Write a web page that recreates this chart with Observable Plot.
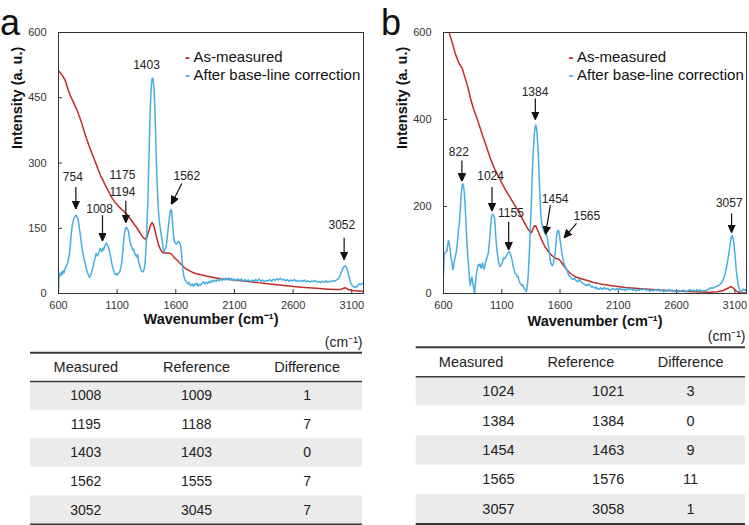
<!DOCTYPE html>
<html>
<head>
<meta charset="utf-8">
<script src="https://cdn.jsdelivr.net/npm/d3@7"></script>
<script src="https://cdn.jsdelivr.net/npm/@observablehq/plot@0.6"></script>
<style>
  html, body { margin: 0; padding: 0; background: #fff; }
  #root { position: relative; width: 749px; height: 525px; overflow: hidden; font-family: "Liberation Sans", Arial, sans-serif; }
  #root > * { position: absolute; }
  .panel-label { font-size: 36px; line-height: 1; color: #111; }
</style>
</head>
<body>
<div id="root"></div>
<script>
// ---------- data ----------
const wavenumberTicks = [600, 1100, 1600, 2100, 2600, 3100];
const intensityTicksA = [0, 150, 300, 450, 600];
const intensityTicksB = [0, 200, 400, 600];
const seriesNames = ["As-measured", "After base-line correction"];
const seriesColors = ["#c22b27", "#48aee0"];

// Panel a: as-measured spectrum [wavenumber, intensity]
const measuredA = [[600,512],[620,506],[640,498],[660,488],[680,470],[700,455],[720,444],[740,432],[760,420],[780,405],[800,390],[820,372],[840,355],[860,340],[880,325],[900,312],[920,298],[940,284],[960,270],[980,260],[1000,248],[1020,238],[1040,228],[1060,218],[1080,210],[1100,204],[1120,198],[1140,193],[1160,188],[1180,183],[1200,176],[1220,169],[1240,161],[1260,154],[1280,146],[1300,137],[1320,129],[1340,125],[1355,130],[1370,144],[1385,157],[1398,163],[1410,158],[1425,142],[1440,125],[1455,110],[1470,101],[1485,95],[1500,93],[1520,93],[1545,93],[1565,90],[1585,83],[1610,77],[1635,70],[1660,63],[1685,57],[1710,53],[1740,49],[1770,46],[1810,43],[1860,40],[1920,37],[1980,34],[2050,32],[2100,31],[2200,28],[2300,25],[2400,22],[2500,19],[2600,16],[2700,14],[2800,12],[2900,10],[2960,9],[3000,9],[3020,11],[3040,13],[3055,12],[3070,9],[3100,7],[3150,6],[3200,5]];

// Panel a: after base-line correction
const correctedA = [[600,0],[603,36],[610,46],[617,41],[624,49],[631,44],[638,52],[646,47],[654,55],[662,60],[670,66],[678,70],[686,80],[694,92],[702,115],[710,140],[718,157],[726,168],[734,174],[742,178],[750,180],[756,178],[762,174],[770,166],[778,150],[786,134],[794,118],[802,102],[810,90],[818,78],[826,70],[834,62],[842,52],[850,46],[858,40],[866,37],[874,42],[882,48],[890,56],[898,66],[906,76],[914,84],[920,92],[926,90],[932,86],[938,90],[946,96],[954,104],[962,100],[968,96],[976,104],[984,100],[992,108],[1000,112],[1008,116],[1014,114],[1020,110],[1028,104],[1036,94],[1044,84],[1052,72],[1060,62],[1068,54],[1076,48],[1084,44],[1092,46],[1100,42],[1108,46],[1116,48],[1124,52],[1132,60],[1140,72],[1148,96],[1156,122],[1164,142],[1172,150],[1180,152],[1188,148],[1196,144],[1202,132],[1210,118],[1218,110],[1226,106],[1234,100],[1242,102],[1250,92],[1258,88],[1266,84],[1274,90],[1282,74],[1290,66],[1298,58],[1306,52],[1314,50],[1322,50],[1330,56],[1338,70],[1344,95],[1350,125],[1356,170],[1362,215],[1368,280],[1374,340],[1380,400],[1386,452],[1392,480],[1398,494],[1404,495],[1410,482],[1416,462],[1422,420],[1428,370],[1434,310],[1440,260],[1446,220],[1452,190],[1458,168],[1466,153],[1474,138],[1480,128],[1486,118],[1492,104],[1498,96],[1504,98],[1512,104],[1520,112],[1528,130],[1536,152],[1544,172],[1552,188],[1558,193],[1564,190],[1570,172],[1576,150],[1582,130],[1588,120],[1596,116],[1604,114],[1612,116],[1620,120],[1628,118],[1636,114],[1642,108],[1648,92],[1654,74],[1660,56],[1666,44],[1672,36],[1680,30],[1688,28],[1696,24],[1704,22],[1712,26],[1720,20],[1730,18],[1740,22],[1750,16],[1760,22],[1770,20],[1780,24],[1790,17],[1800,21],[1812,19],[1824,24],[1836,27],[1848,22],[1860,26],[1872,23],[1884,28],[1896,25],[1908,30],[1920,27],[1932,31],[1944,28],[1956,32],[1968,29],[1980,33],[1992,30],[2004,34],[2016,31],[2028,35],[2040,32],[2052,36],[2064,31],[2076,35],[2088,30],[2100,33],[2115,29],[2130,34],[2145,30],[2160,33],[2175,28],[2190,32],[2205,29],[2220,31],[2235,27],[2250,31],[2265,28],[2280,32],[2295,29],[2310,33],[2325,28],[2340,31],[2355,27],[2370,30],[2385,29],[2400,32],[2415,28],[2430,33],[2445,30],[2460,34],[2475,31],[2490,35],[2505,31],[2520,33],[2535,29],[2550,32],[2565,28],[2580,31],[2595,29],[2610,32],[2625,28],[2640,30],[2655,27],[2670,30],[2685,28],[2700,31],[2715,27],[2730,29],[2745,26],[2760,29],[2775,27],[2790,30],[2805,26],[2820,28],[2835,25],[2850,28],[2865,26],[2880,29],[2895,26],[2910,28],[2925,27],[2940,30],[2955,28],[2970,31],[2985,34],[2995,38],[3005,44],[3015,52],[3025,58],[3035,62],[3045,63],[3055,60],[3065,52],[3075,40],[3085,30],[3095,22],[3105,18],[3115,16],[3125,14],[3135,16],[3145,15],[3155,20],[3165,22],[3175,20],[3185,23],[3200,22]];

// Panel b: as-measured spectrum
const measuredB = [[600,650],[620,628],[640,608],[660,590],[680,572],[700,552],[720,538],[740,526],[760,518],[780,500],[800,483],[820,462],[840,440],[860,423],[880,408],[900,392],[920,376],[940,360],[960,344],[980,328],[1000,312],[1020,298],[1040,286],[1060,275],[1080,265],[1100,254],[1120,244],[1140,235],[1160,226],[1180,217],[1200,208],[1220,199],[1240,190],[1260,181],[1280,170],[1300,160],[1320,150],[1340,143],[1355,140],[1368,148],[1380,156],[1390,156],[1400,150],[1412,143],[1425,134],[1440,125],[1455,116],[1470,108],[1485,102],[1500,96],[1520,90],[1540,85],[1560,81],[1580,80],[1595,78],[1610,72],[1630,65],[1650,57],[1670,51],[1690,46],[1710,42],[1735,38],[1770,35],[1820,31],[1880,26],[1960,21],[2060,17],[2160,14],[2300,11],[2450,8],[2600,6],[2750,4],[2880,3],[2950,4],[3000,7],[3040,12],[3065,16],[3085,13],[3105,7],[3130,3],[3160,2],[3200,1]];

// Panel b: after base-line correction
const correctedB = [[600,42],[606,90],[618,95],[629,98],[636,112],[643,122],[650,112],[658,100],[665,82],[672,72],[680,55],[686,62],[692,72],[700,84],[709,94],[716,110],[722,124],[729,148],[734,158],[738,168],[744,192],[749,216],[755,238],[761,250],[767,252],[772,248],[778,232],[784,212],[790,180],[795,152],[801,120],[807,92],[813,70],[818,52],[824,32],[830,18],[836,30],[844,38],[850,26],[858,14],[864,4],[868,0],[872,18],[878,34],[886,50],[893,62],[900,66],[906,64],[912,68],[918,62],[924,58],[930,66],[936,70],[942,60],[950,56],[958,68],[967,78],[975,84],[984,92],[992,112],[1000,138],[1006,160],[1012,176],[1018,180],[1024,182],[1030,178],[1036,176],[1042,160],[1048,134],[1054,112],[1060,96],[1066,86],[1072,74],[1078,68],[1084,62],[1090,64],[1096,66],[1102,70],[1110,76],[1118,82],[1126,80],[1134,84],[1142,88],[1150,92],[1158,95],[1165,96],[1172,92],[1179,87],[1186,80],[1193,70],[1200,60],[1208,52],[1216,46],[1224,44],[1232,38],[1240,40],[1248,30],[1256,24],[1264,22],[1272,18],[1280,20],[1288,14],[1296,10],[1304,8],[1310,4],[1316,12],[1322,24],[1328,48],[1334,78],[1340,115],[1346,155],[1352,200],[1358,245],[1364,290],[1370,325],[1376,352],[1382,375],[1388,385],[1393,387],[1398,380],[1403,368],[1408,345],[1414,318],[1420,276],[1426,232],[1432,198],[1438,174],[1444,160],[1450,152],[1456,148],[1462,145],[1468,140],[1474,138],[1480,136],[1486,133],[1492,126],[1498,114],[1504,104],[1510,90],[1516,78],[1522,70],[1528,66],[1534,64],[1540,68],[1546,74],[1552,82],[1558,92],[1564,112],[1570,130],[1576,140],[1582,145],[1588,144],[1594,136],[1600,124],[1608,108],[1616,94],[1624,80],[1632,70],[1640,64],[1648,60],[1656,56],[1664,50],[1672,44],[1680,40],[1688,38],[1696,36],[1704,33],[1712,32],[1720,35],[1728,34],[1736,30],[1744,28],[1752,27],[1760,30],[1768,32],[1776,28],[1784,26],[1792,24],[1800,23],[1810,21],[1820,18],[1830,20],[1840,19],[1850,22],[1860,18],[1870,15],[1880,16],[1890,14],[1900,12],[1910,15],[1920,11],[1935,10],[1950,13],[1965,9],[1980,14],[1995,10],[2010,12],[2025,7],[2040,9],[2055,12],[2070,8],[2085,11],[2100,9],[2115,12],[2130,8],[2145,10],[2160,7],[2175,11],[2190,9],[2205,12],[2220,8],[2235,10],[2250,6],[2265,9],[2280,7],[2295,10],[2310,8],[2325,11],[2340,7],[2355,9],[2370,5],[2385,8],[2400,6],[2415,9],[2430,7],[2445,10],[2460,5],[2475,8],[2490,4],[2505,7],[2520,5],[2535,9],[2550,6],[2565,8],[2580,4],[2595,6],[2610,3],[2625,7],[2640,5],[2655,8],[2670,6],[2685,4],[2700,7],[2715,9],[2730,6],[2745,8],[2760,5],[2775,9],[2790,6],[2805,8],[2820,5],[2835,7],[2850,6],[2865,9],[2880,11],[2895,13],[2910,12],[2925,15],[2940,16],[2955,18],[2970,20],[2985,24],[2995,28],[3005,36],[3015,44],[3025,56],[3035,70],[3045,86],[3055,104],[3063,120],[3070,130],[3077,133],[3084,128],[3091,118],[3098,98],[3105,78],[3112,54],[3120,36],[3128,22],[3136,12],[3145,6],[3155,3],[3165,8],[3175,10],[3185,7],[3200,9]];

// Peak annotations (label position and arrow tail -> tip, in data units)
const peakAnnotationsA = [
  {label: "754", lx: 722, ly: 272, x1: 748, y1: 245, x2: 748, y2: 195},
  {label: "1008", lx: 950, ly: 199, x1: 975, y1: 180, x2: 975, y2: 121},
  {label: "1175\n1194", lx: 1145, ly: 257, x1: 1174, y1: 213, x2: 1174, y2: 163},
  {label: "1403", lx: 1350, ly: 529},
  {label: "1562", lx: 1694, ly: 273, x1: 1651, y1: 253, x2: 1562, y2: 205},
  {label: "3052", lx: 3015, ly: 162, x1: 3035, y1: 128, x2: 3035, y2: 78}
];
const peakAnnotationsB = [
  {label: "822", lx: 732, ly: 328, x1: 758, y1: 306, x2: 758, y2: 258},
  {label: "1024", lx: 1004, ly: 273, x1: 1016, y1: 245, x2: 1016, y2: 190},
  {label: "1155", lx: 1179, ly: 188, x1: 1159, y1: 165, x2: 1159, y2: 100},
  {label: "1384", lx: 1385, ly: 467, x1: 1388, y1: 448, x2: 1388, y2: 400},
  {label: "1454", lx: 1558, ly: 221, x1: 1517, y1: 203, x2: 1476, y2: 136},
  {label: "1565", lx: 1830, ly: 182, x1: 1741, y1: 161, x2: 1635, y2: 128},
  {label: "3057", lx: 3052, ly: 211, x1: 3072, y1: 184, x2: 3072, y2: 140}
];

// Tables
const tableHeaders = ["Measured", "Reference", "Difference"];
const tableMeasuredA = [1008, 1195, 1403, 1562, 3052];
const tableReferenceA = [1009, 1188, 1403, 1555, 3045];
const tableDifferenceA = [1, 7, 0, 7, 7];
const tableMeasuredB = [1024, 1384, 1454, 1565, 3057];
const tableReferenceB = [1021, 1384, 1463, 1576, 3058];
const tableDifferenceB = [3, 0, 9, 11, 1];

// ---------- drawing ----------
const FONT = '"Liberation Sans", Arial, sans-serif';
const root = document.getElementById("root");

function filledArrow(color) {
  const ns = "http://www.w3.org/2000/svg";
  const m = document.createElementNS(ns, "marker");
  m.setAttribute("viewBox", "-8 -4 8 8");
  m.setAttribute("markerWidth", 8);
  m.setAttribute("markerHeight", 8);
  m.setAttribute("markerUnits", "userSpaceOnUse");
  m.setAttribute("orient", "auto");
  const p = document.createElementNS(ns, "path");
  p.setAttribute("d", "M-8,-3.6L0,0L-8,3.6Z");
  p.setAttribute("fill", color);
  m.appendChild(p);
  return m;
}

function spectrumPanel({measured, corrected, yTicks, annotations, width, marginLeft, marginRight, legendDx, xTitleDy}) {
  return Plot.plot({
    width, height: 340,
    marginLeft, marginRight, marginTop: 32, marginBottom: 47,
    x: {domain: [600, 3200]},
    y: {domain: [0, 600]},
    style: {fontFamily: FONT, fontSize: "11px", color: "#222", background: "transparent", overflow: "visible"},
    marks: [
      Plot.axisX({ticks: wavenumberTicks, tickSize: -4, tickPadding: 12, tickFormat: "d", label: null, stroke: "#333", fill: "#333"}),
      Plot.axisY({ticks: yTicks, tickSize: -4, tickPadding: 16, tickFormat: "d", label: null, stroke: "#333", fill: "#333"}),
      Plot.line(measured, {x: d => d[0], y: d => d[1], stroke: seriesColors[0], strokeWidth: 1.5, clip: true}),
      Plot.line(corrected, {x: d => d[0], y: d => d[1], stroke: seriesColors[1], strokeWidth: 1.5, clip: true}),
      Plot.frame({stroke: "#333", strokeWidth: 1}),
      Plot.link(annotations.filter(d => d.x1 != null), {x1: "x1", y1: "y1", x2: "x2", y2: "y2", stroke: "#111", strokeWidth: 1.2, markerEnd: filledArrow}),
      Plot.text(annotations, {x: "lx", y: "ly", text: "label", fontSize: 12, lineHeight: 1.45, fill: "#222"}),
      ...seriesNames.map((name, i) => Plot.text([name], {text: d => d, frameAnchor: "top-left", dx: legendDx, dy: 18.5 + 18.3 * i, textAnchor: "start", fontSize: 15, fill: "#111"})),
      ...seriesNames.map((name, i) => Plot.text(["-"], {text: d => d, frameAnchor: "top-left", dx: legendDx - 6, dy: 18.5 + 18.3 * i, textAnchor: "middle", fontSize: 15, fontWeight: "bold", fill: seriesColors[i]})),
      Plot.text(["Intensity (a. u.)"], {text: d => d, frameAnchor: "left", rotate: -90, dx: -41, dy: -14, fontWeight: "bold", fontSize: 14.5, fill: "#111"}),
      Plot.text(["Wavenumber (cm\u207B\u00B9)"], {text: d => d, frameAnchor: "bottom", dy: xTitleDy, fontWeight: "bold", fontSize: 14.5, fill: "#111"})
    ]
  });
}

function peakTable({measured, reference, difference, width, height, marginLeft, marginRight, top, bottom, numberSize, rightAligned}) {
  const rows = measured.map((m, i) => ({i, m, r: reference[i], d: difference[i]}));
  const numOpts = (col) => rightAligned && col < 2
    ? {textAnchor: "end", dx: 43.5}
    : {textAnchor: "middle"};
  return Plot.plot({
    width, height, marginLeft, marginRight, marginTop: 0, marginBottom: 0,
    x: {domain: [0, 3], axis: null},
    y: {domain: [0, 6], range: [top, bottom], axis: null},
    style: {fontFamily: FONT, fontSize: "14px", color: "#222", background: "transparent", overflow: "visible"},
    marks: [
      Plot.rect(rows.filter(d => d.i % 2 === 0), {x1: 0, x2: 3, y1: d => d.i + 1, y2: d => d.i + 2, fill: "#ebebeb"}),
      Plot.ruleY([0], {stroke: "#3a3a3a", strokeWidth: 2}),
      Plot.ruleY([1], {stroke: "#3a3a3a", strokeWidth: 1.5}),
      Plot.ruleY([6], {stroke: "#3a3a3a", strokeWidth: 2}),
      Plot.text(tableHeaders, {x: (d, i) => i + 0.5, y: 0.5, text: d => d, fontSize: 14.5, fill: "#222"}),
      Plot.text(rows, {x: 0.5, y: d => d.i + 1.5, text: d => String(d.m), fontSize: numberSize, fill: "#222", ...numOpts(0)}),
      Plot.text(rows, {x: 1.5, y: d => d.i + 1.5, text: d => String(d.r), fontSize: numberSize, fill: "#222", ...numOpts(1)}),
      Plot.text(rows, {x: 2.5, y: d => d.i + 1.5, text: d => String(d.d), fontSize: numberSize, fill: "#222", ...numOpts(2)}),
      Plot.text(["(cm\u207B\u00B9)"], {x: 3, y: 0, dy: -10.6, text: d => d, textAnchor: "end", fontSize: 14, fill: "#222"})
    ]
  });
}

function place(node, left, top) {
  node.style.left = left + "px";
  node.style.top = top + "px";
  root.appendChild(node);
}

place(spectrumPanel({measured: measuredA, corrected: correctedA, yTicks: intensityTicksA, annotations: peakAnnotationsA,
  width: 374, marginLeft: 58, marginRight: 11, legendDx: 135, xTitleDy: 30}), 0, 0);
place(spectrumPanel({measured: measuredB, corrected: correctedB, yTicks: intensityTicksB, annotations: peakAnnotationsB,
  width: 375, marginLeft: 69, marginRight: 3, legendDx: 133.5, xTitleDy: 32}), 374, 0);

place(peakTable({measured: tableMeasuredA, reference: tableReferenceA, difference: tableDifferenceA,
  width: 374, height: 195, marginLeft: 30, marginRight: 12, top: 22.3, bottom: 194, numberSize: 14, rightAligned: false}), 0, 330);
place(peakTable({measured: tableMeasuredB, reference: tableReferenceB, difference: tableDifferenceB,
  width: 375, height: 203, marginLeft: 41.7, marginRight: 4, top: 24.7, bottom: 201.5, numberSize: 14.5, rightAligned: true}), 374, 322);

const la = document.createElement("div"); la.className = "panel-label"; la.textContent = "a"; place(la, 0, 4.5);
const lb = document.createElement("div"); lb.className = "panel-label"; lb.textContent = "b"; place(lb, 381, 4.5);
</script>
</body>
</html>
